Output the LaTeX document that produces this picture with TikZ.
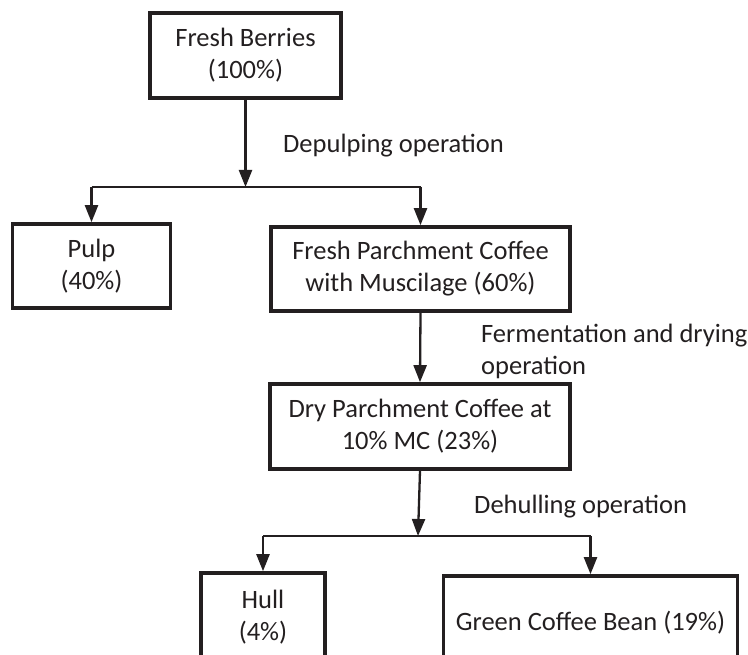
\documentclass[tikz,border=0pt]{standalone}
\usepackage{fontspec}
\setmainfont{Carlito}
\usetikzlibrary{arrows.meta}
\definecolor{ink}{HTML}{231F20}
\begin{document}
\begin{tikzpicture}[x=1pt,y=-1pt,
  stage/.style={draw=ink, line width=3.6pt, text=ink, align=center,
    inner sep=0pt, font=\fontsize{26.5}{32}\selectfont},
  link/.style={draw=ink, line width=2.3pt},
  arr/.style={link, -{Triangle[length=17pt,width=13pt]}},
  note/.style={text=ink, anchor=west, align=left, inner sep=0pt,
    font=\fontsize{26.5}{32}\selectfont}]
\useasboundingbox (0,0) rectangle (748,655);
\clip (0,0) rectangle (748,655);

% process stages
\node[stage, minimum width=191pt, minimum height=85pt] (berries) at (245.5,55.5)
  {Fresh Berries\\(100\%)};
\node[stage, minimum width=158pt, minimum height=84pt] (pulp) at (91.5,266)
  {Pulp\\(40\%)};
\node[stage, minimum width=299pt, minimum height=84pt] (fpc) at (420.5,269)
  {Fresh Parchment Coffee\\with Muscilage (60\%)};
\node[stage, minimum width=300pt, minimum height=85pt] (dry) at (420,426.5)
  {Dry Parchment Coffee at\\10\% MC (23\%)};
\node[stage, minimum width=124pt, minimum height=88pt] (hull) at (263,617)
  {Hull\\(4\%)};
\node[stage, minimum width=294pt, minimum height=94pt] (green) at (590.5,623)
  {Green Coffee Bean (19\%)};

% junction points where the flow splits
\coordinate (split1) at (245.5,187);
\coordinate (split2) at (418,536);

% depulping
\draw[arr] (berries.south) -- (split1);
\draw[link] (split1 -| pulp) -- (split1 -| fpc);
\draw[arr] (split1 -| pulp) -- (pulp.north);
\draw[arr] (split1 -| fpc) -- (fpc.north);

% fermentation and drying
\draw[arr] (fpc.south) -- (dry.north);

% dehulling
\draw[arr] (dry.south) -- (split2);
\draw[link] (split2 -| hull) -- (split2 -| green);
\draw[arr] (split2 -| hull) -- (hull.north);
\draw[arr] (split2 -| green) -- (green.north);

% operation labels
\node[note] (lab1) at (283,146) {Depulping operation};
\node[note] (lab2) at (481,351) {Fermentation and drying\\operation};
\node[note] (lab3) at (474,507) {Dehulling operation};
\end{tikzpicture}
\end{document}
